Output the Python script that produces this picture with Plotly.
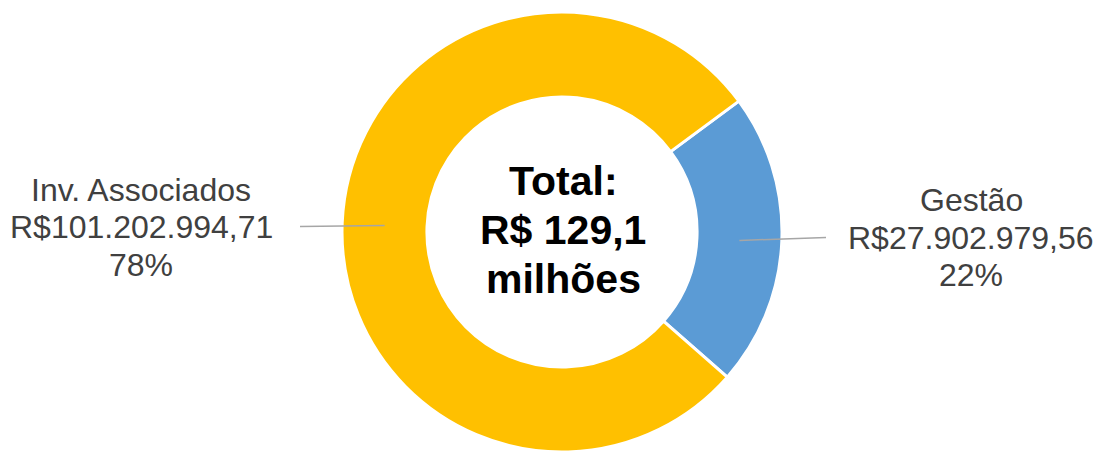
import math
import plotly.graph_objects as go

labels = ["Gestão", "Inv. Associados"]
values = [27902979.56, 101202994.71]
value_text = ["R$27.902.979,56", "R$101.202.994,71"]
pct_text = ["22%", "78%"]
colors = ["#5B9BD5", "#FFC000"]
center_lines = ["Total:", "R$ 129,1", "milhões"]

W, H = 1104, 453
OFF = 8  # page body margin offset
cx, cy, R = 562 - OFF, 232 - OFF, 220
hole = 0.614
rotation = 53.5

fig = go.Figure(go.Pie(
    labels=labels, values=values, sort=False, direction="clockwise",
    rotation=rotation, hole=hole, textinfo="none", hoverinfo="label+value+percent",
    marker=dict(colors=colors, line=dict(color="white", width=3)),
    domain=dict(x=[(cx - R) / W, (cx + R) / W], y=[(H - cy - R) / H, (H - cy + R) / H]),
    showlegend=False,
))

def px(x):
    return x / W

def py(y):
    return 1 - y / H

total = sum(values)
start = rotation
rmid = R * (1 + hole) / 2
label_x = [826 - OFF, 300 - OFF]
text_x = [971 - OFF, 141 - OFF]
text_y0 = [200 - OFF, 190 - OFF]
line_gap = 37.5
shapes, annotations = [], []
for i, v in enumerate(values):
    span = 360 * v / total
    mid = math.radians(start + span / 2)
    start += span
    x0 = cx + rmid * math.sin(mid)
    y0 = cy - rmid * math.cos(mid)
    y1 = y0 - 3 if i == 0 else y0 + 1
    shapes.append(dict(type="line", xref="paper", yref="paper",
                       x0=px(x0), y0=py(y0 + 1), x1=px(label_x[i]), y1=py(y1 + 1),
                       line=dict(color="#A6A6A6", width=1.5)))
    for k, t in enumerate([labels[i], value_text[i], pct_text[i]]):
        annotations.append(dict(xref="paper", yref="paper", x=px(text_x[i]),
                                y=py(text_y0[i] + k * line_gap),
                                text=t, showarrow=False, xanchor="center", yanchor="middle",
                                font=dict(family="Liberation Sans, Arial", size=32, color="#404040")))

for k, t in enumerate(center_lines):
    annotations.append(dict(xref="paper", yref="paper", x=px(cx + 1), y=py(181 - OFF + k * 49),
                            text=f"<b>{t}</b>", showarrow=False,
                            xanchor="center", yanchor="middle",
                            font=dict(family="Liberation Sans, Arial", size=41, color="black")))

fig.update_layout(width=W, height=H, margin=dict(l=0, r=0, t=0, b=0),
                  paper_bgcolor="white", plot_bgcolor="white",
                  shapes=shapes, annotations=annotations)
fig.write_html("out.html")
